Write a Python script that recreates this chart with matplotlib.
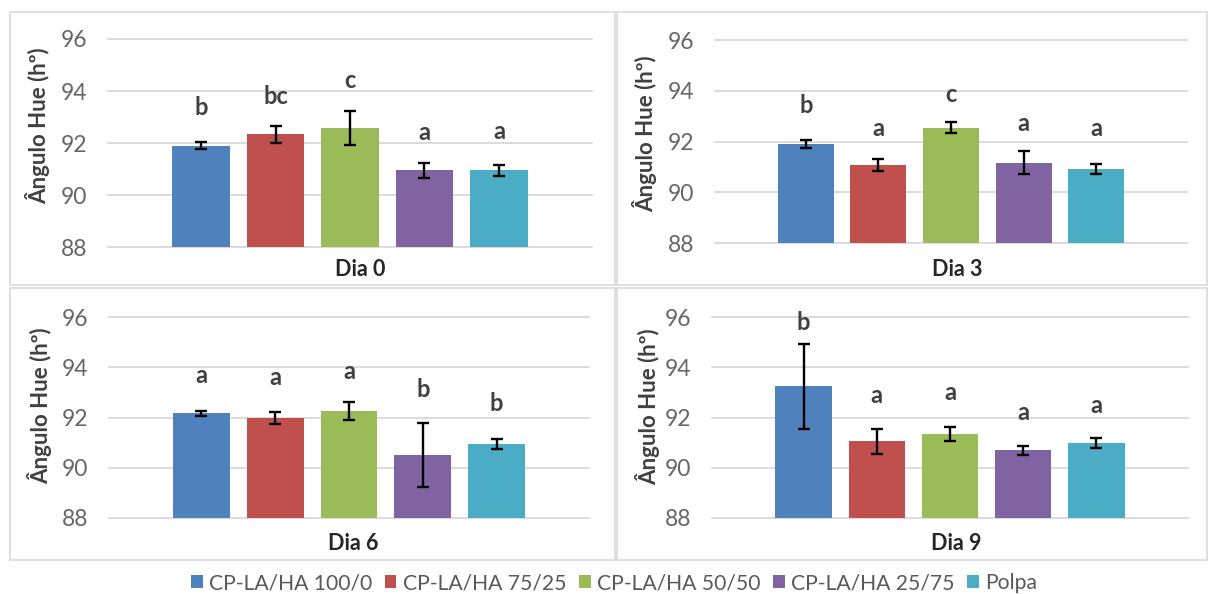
import matplotlib
matplotlib.use('Agg')
import matplotlib.pyplot as plt
from matplotlib.patches import Rectangle, Patch

# ---------------- data ----------------
series = ['CP-LA/HA 100/0', 'CP-LA/HA 75/25', 'CP-LA/HA 50/50', 'CP-LA/HA 25/75', 'Polpa']
days = ['Dia 0', 'Dia 3', 'Dia 6', 'Dia 9']

means_d0 = [91.90, 92.33, 92.59, 90.95, 90.95]
err_d0 = [0.12, 0.33, 0.66, 0.30, 0.20]
letters_d0 = ['b', 'bc', 'c', 'a', 'a']

means_d3 = [91.90, 91.08, 92.55, 91.17, 90.92]
err_d3 = [0.17, 0.25, 0.21, 0.45, 0.19]
letters_d3 = ['b', 'a', 'c', 'a', 'a']

means_d6 = [92.16, 91.97, 92.26, 90.52, 90.93]
err_d6 = [0.10, 0.23, 0.37, 1.27, 0.20]
letters_d6 = ['a', 'a', 'a', 'b', 'b']

means_d9 = [93.24, 91.05, 91.34, 90.69, 90.98]
err_d9 = [1.70, 0.50, 0.29, 0.18, 0.19]
letters_d9 = ['b', 'a', 'a', 'a', 'a']

yticks = [88, 90, 92, 94, 96]
ylabel = 'Ângulo Hue (hº)'

# ---------------- style / layout ----------------
colors = ['#4F81BD', '#C0504D', '#9BBB59', '#8064A2', '#4BACC6']
# gap between top of error bar and the letter (data units)
letter_gaps = [
    [1.33, 1.14, 1.15, 1.15, 1.30],
    [1.34, 1.17, 1.09, 1.08, 1.39],
    [1.42, 1.41, 1.21, 1.32, 1.42],
    [0.86, 1.34, 1.37, 1.32, 1.31],
]
W, H = 1211, 594
axes_px = [(108, 39, 592, 247), (715, 40, 1187, 243),
           (109, 317, 589, 518), (712, 317, 1188, 518)]
panel_px = [(10, 12, 615, 285), (617, 12, 1207, 285),
            (10, 288, 615, 560), (617, 288, 1207, 560)]
ylabel_px = [(38, 126), (645, 134), (40, 406), (648, 407)]
daylab_px = [(360, 269), (957, 269), (353, 543), (956, 543)]

FONT = ['Lato', 'DejaVu Sans']
plt.rcParams['font.family'] = FONT

fig = plt.figure(figsize=(W / 100, H / 100), dpi=100)
fig.patch.set_facecolor('white')

all_means = [means_d0, means_d3, means_d6, means_d9]
all_errs = [err_d0, err_d3, err_d6, err_d9]
all_letters = [letters_d0, letters_d3, letters_d6, letters_d9]

for (l, t, r, b) in panel_px:
    fig.patches.append(Rectangle((l / W, 1 - b / H), (r - l) / W, (b - t) / H,
                                 transform=fig.transFigure, fill=False,
                                 edgecolor='#d9d9d9', linewidth=1.2))

x = list(range(len(series)))
for i in range(4):
    l, t, r, b = axes_px[i]
    ax = fig.add_axes([l / W, 1 - b / H, (r - l) / W, (b - t) / H])
    ax.set_facecolor('none')
    base = yticks[0]
    ax.bar(x, [m - base for m in all_means[i]], bottom=base, width=0.77,
           color=colors, zorder=2)
    ax.errorbar(x, all_means[i], yerr=all_errs[i], fmt='none', ecolor='black',
                elinewidth=1.7, capsize=4, capthick=1.7, zorder=3)
    for xi, m, e, lt, g in zip(x, all_means[i], all_errs[i], all_letters[i], letter_gaps[i]):
        ax.text(xi, m + e + g, lt, ha='center', va='center', fontsize=17,
                fontweight='bold', color='#404040', zorder=4)
    ax.set_xlim(-1.25, 5.25)
    ax.set_ylim(yticks[0], yticks[-1])
    ax.set_yticks(yticks)
    ax.set_yticklabels([str(v) for v in yticks])
    ax.set_xticks([])
    ax.tick_params(axis='y', length=0, pad=15, labelsize=16.5, labelcolor='#666666')
    for s in ax.spines.values():
        s.set_visible(False)
    ax.yaxis.grid(True, color='#d9d9d9', linewidth=1.3, zorder=0)
    ax.set_axisbelow(True)
    for gl in ax.get_ygridlines():
        gl.set_clip_on(False)
    yx, yy = ylabel_px[i]
    fig.text(yx / W, 1 - yy / H, ylabel, rotation=90, ha='center', va='center',
             fontsize=16, fontweight='bold', color='#404040')
    dx, dy = daylab_px[i]
    fig.text(dx / W, 1 - dy / H, days[i], ha='center', va='center',
             fontsize=15.5, fontweight='bold', color='#262626')

handles = [Patch(facecolor=c, edgecolor='none') for c in colors]
fig.legend(handles, series, loc='center', bbox_to_anchor=(614 / W, 1 - 583 / H),
           ncol=5, frameon=False, fontsize=15.2, handlelength=0.55, handleheight=0.55,
           handletextpad=0.3, columnspacing=0.6, labelcolor='#595959',
           borderpad=0, borderaxespad=0)

fig.savefig('out.png', dpi=100, facecolor='white')
